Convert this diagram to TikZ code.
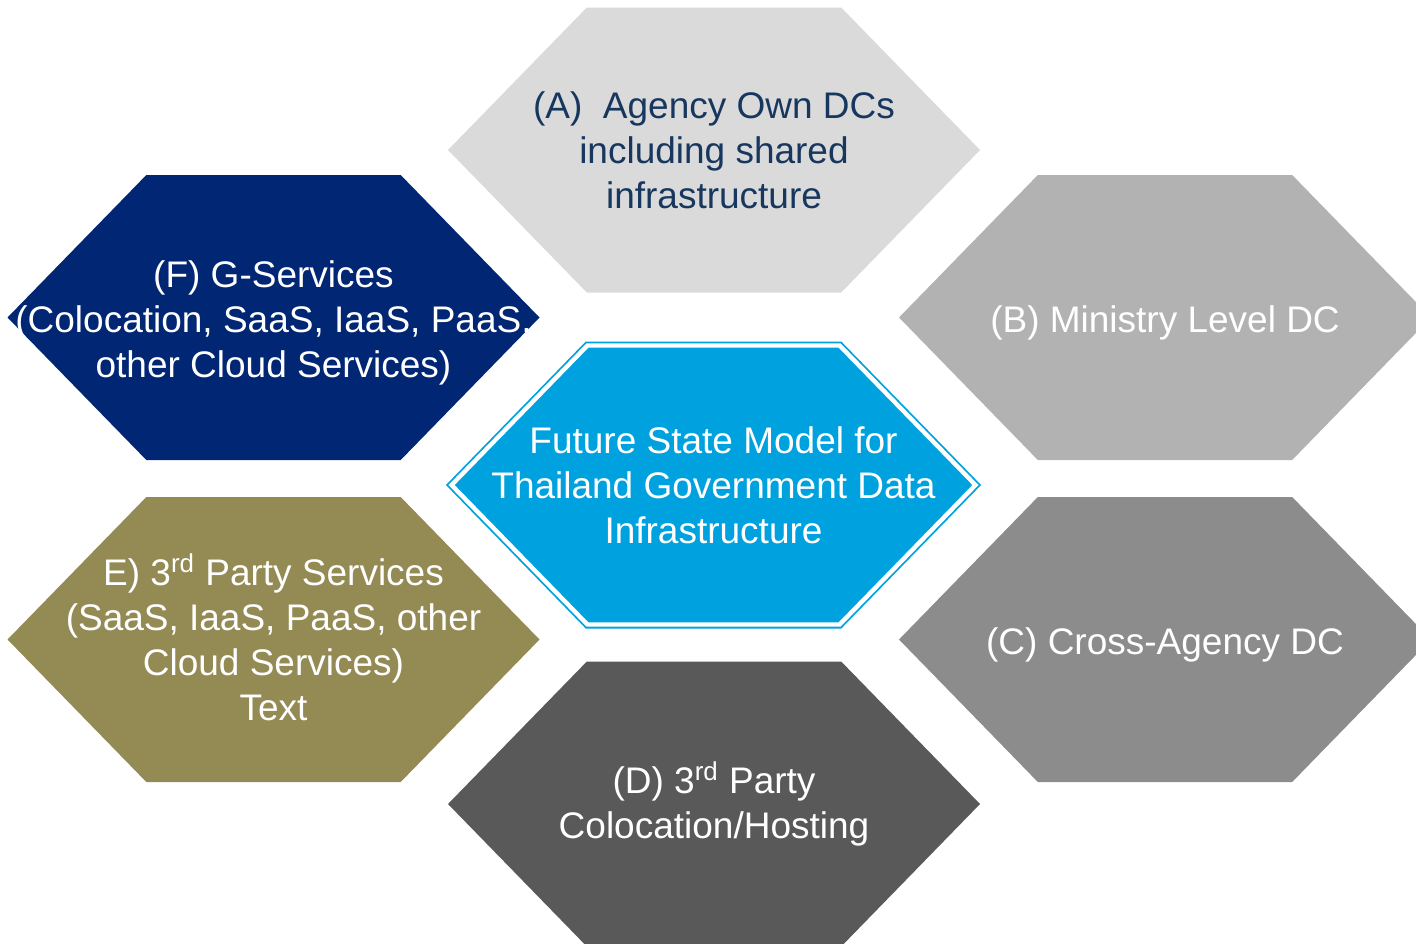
\documentclass[tikz,border=0pt]{standalone}
\usepackage{fontspec}
\setmainfont{Liberation Sans}
\definecolor{agencygrey}{RGB}{218,218,218}
\definecolor{agencytext}{RGB}{23,55,94}
\definecolor{gservblue}{RGB}{0,38,116}
\definecolor{ministrygrey}{RGB}{178,178,178}
\definecolor{crossgrey}{RGB}{140,140,140}
\definecolor{hostgrey}{RGB}{89,89,89}
\definecolor{partyolive}{RGB}{148,138,84}
\definecolor{modelblue}{RGB}{0,161,223}
\usetikzlibrary{shapes.symbols}

\begin{document}
\begin{tikzpicture}[
        x=0.5pt, y=-0.5pt,
        hexa/.style={signal, signal to=east and west, signal pointer angle=91.5, minimum width=266pt, minimum height=142.5pt, inner sep=0pt, draw=none},
        lbl/.style={align=center, text=white, font=\fontsize{18.5}{22.5}\selectfont}
    ]
        \useasboundingbox (0,0) rectangle (1416,943);
        \clip (0,0) rectangle (1416,943);

        % Outer ring
        \node[hexa, fill=agencygrey] (hexA) at (714,150) {};
        \node[hexa, fill=ministrygrey] (hexB) at (1165,317.5) {};
        \node[hexa, fill=crossgrey] (hexC) at (1165,639.5) {};
        \node[hexa, fill=hostgrey] (hexD) at (714,804) {};
        \node[hexa, fill=partyolive] (hexE) at (273.5,639.5) {};
        \node[hexa, fill=gservblue] (hexF) at (273.5,317.5) {};

        % Centre
        \node[hexa, fill=modelblue, draw=modelblue, double=white, double distance=2.2pt, line width=0.9pt, minimum width=262pt, minimum height=139.5pt] (hexM) at (713.5,485) {};

        % Labels
        \node[lbl, text=agencytext] (labA) at (hexA) {(A)\ \ Agency Own DCs\\including shared\\infrastructure};
        \node[lbl] (labB) at ([yshift=-2.5pt]hexB) {(B) Ministry Level DC};
        \node[lbl] (labC) at ([yshift=-2.5pt]hexC) {(C) Cross-Agency DC};
        \node[lbl] (labD) at (hexD) {(D) 3\textsuperscript{rd} Party\\Colocation/Hosting};
        \node[lbl] (labE) at ([yshift=1pt]hexE) {E) 3\textsuperscript{rd} Party Services\\(SaaS, IaaS, PaaS, other\\Cloud Services)\\Text};
        \node[lbl] (labF) at ([yshift=-2.5pt]hexF) {(F) G-Services\\(Colocation, SaaS, IaaS, PaaS,\\other Cloud Services)};
        \node[lbl] (labM) at (hexM) {Future State Model for\\Thailand Government Data\\Infrastructure};
    \end{tikzpicture}
\end{document}
